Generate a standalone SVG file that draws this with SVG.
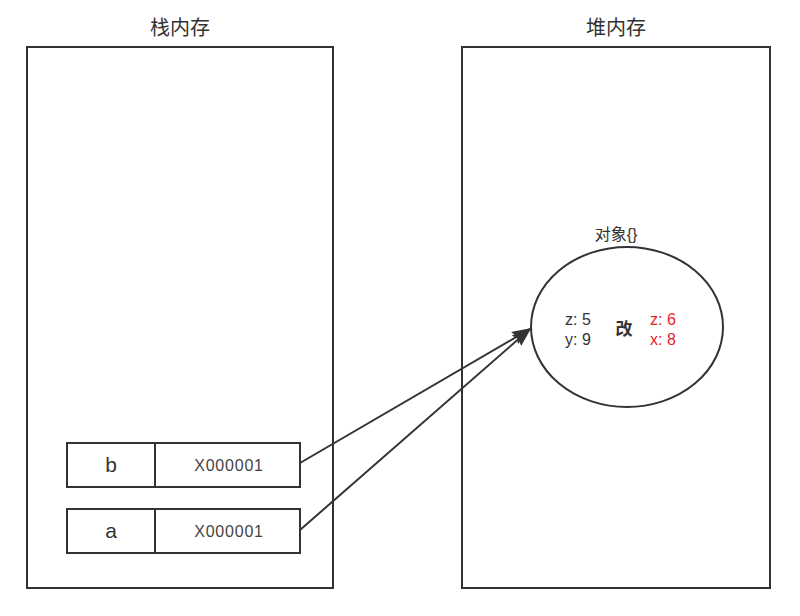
<svg xmlns="http://www.w3.org/2000/svg" width="800" height="616" viewBox="0 0 800 616">
<style>
.box{fill:#fff;stroke:#333;stroke-width:2}
.t{font-family:"Liberation Sans","Noto Sans CJK SC",sans-serif;fill:#333;text-anchor:middle}
.red{fill:#e8232a}
.addr{font-size:16px;letter-spacing:0.8px;fill:#444}
.conn{stroke:#333;stroke-width:2;fill:none}
</style>
<defs>
<marker id="ah" markerUnits="userSpaceOnUse" markerWidth="20" markerHeight="14" refX="18" refY="7" orient="auto">
<path d="M0,0 L20,7 L0,14 L3,7 Z" fill="#333"/>
</marker>
</defs>
<rect width="800" height="616" fill="#fff"/>
<g id="stack">
<rect class="box" x="27" y="47" width="306" height="541"/>
<text class="t" x="180" y="35" font-size="20">栈内存</text>
</g>
<g id="heap">
<rect class="box" x="462" y="47" width="308" height="541"/>
<text class="t" x="616" y="35" font-size="20">堆内存</text>
</g>
<g id="var-b">
<rect class="box" x="67" y="443" width="233" height="44"/>
<line class="conn" x1="155" y1="443" x2="155" y2="487"/>
<text class="t" x="111" y="472" font-size="21">b</text>
<text class="t addr" x="229" y="471">X000001</text>
</g>
<g id="var-a">
<rect class="box" x="67" y="509" width="233" height="44"/>
<line class="conn" x1="155" y1="509" x2="155" y2="553"/>
<text class="t" x="111" y="538" font-size="21">a</text>
<text class="t addr" x="229" y="537">X000001</text>
</g>
<g id="object">
<ellipse class="box" cx="627" cy="327" rx="96" ry="80"/>
<text class="t" x="616" y="240" font-size="16">对象{}</text>
<text class="t" x="578" y="325" font-size="16">z: 5</text>
<text class="t" x="578" y="345" font-size="16">y: 9</text>
<text class="t" x="624" y="335" font-size="17" font-weight="bold">改</text>
<text class="t red" x="663" y="325" font-size="16">z: 6</text>
<text class="t red" x="663" y="345" font-size="16">x: 8</text>
</g>
<g id="connectors">
<line class="conn" x1="300" y1="463" x2="530" y2="329" marker-end="url(#ah)"/>
<line class="conn" x1="300" y1="530" x2="530" y2="329" marker-end="url(#ah)"/>
</g>
</svg>
